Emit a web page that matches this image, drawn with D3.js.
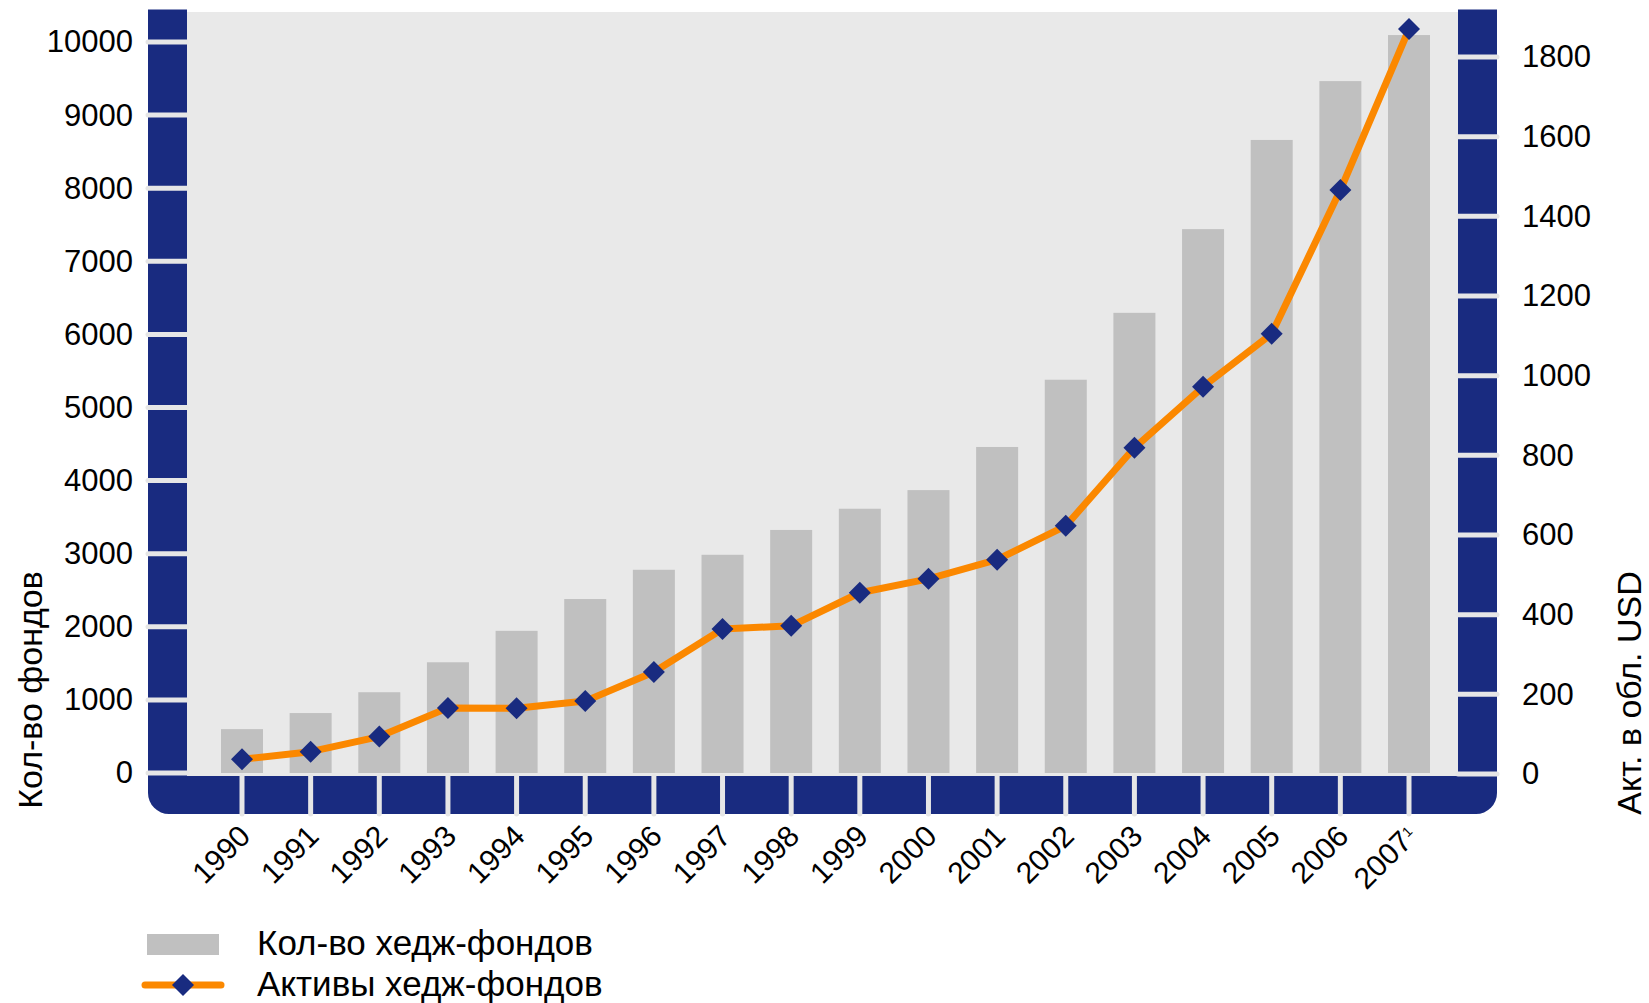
<!DOCTYPE html>
<html lang="ru">

<head>
    <meta charset="UTF-8">
    <title>Хедж-фонды</title>
    <script src="https://cdn.jsdelivr.net/npm/d3@7/dist/d3.min.js"></script>
    <style>
        body {
            margin: 0;
            background: #fff;
        }
        svg {
            font-family: "Liberation Sans", Arial, sans-serif;
        }
    </style>
</head>

<body>
    <script>
        // data
        var years = ["1990", "1991", "1992", "1993", "1994", "1995", "1996", "1997", "1998",
            "1999", "2000", "2001", "2002", "2003", "2004", "2005", "2006", "2007"];
        var fundCounts = [600, 820, 1105, 1515, 1945, 2380, 2780, 2985, 3325,
            3615, 3870, 4460, 5380, 6295, 7440, 8660, 9465, 10095];
        var assets = [37, 56, 94, 166, 165, 183, 256, 364, 372,
            455, 490, 538, 623, 819, 972, 1105, 1466, 1870];
        var leftTicks = [0, 1000, 2000, 3000, 4000, 5000, 6000, 7000, 8000, 9000, 10000];
        var rightTicks = [0, 200, 400, 600, 800, 1000, 1200, 1400, 1600, 1800];
        var leftTitle = "Кол-во фондов";
        var rightTitle = "Акт. в обл. USD";
        var legendNames = ["Кол-во хедж-фондов", "Активы хедж-фондов"];

        var blue = "#192b80",
            orange = "#fb8800",
            barGray = "#c0c0c0",
            bgGray = "#e9e9e9";

        var W = 1649, H = 1003;
        var plotLeft = 187, plotRight = 1458, plotTop = 12, plotBottom = 776;
        var barW = 39; // width of the blue axis bars

        var svg = d3.select("body").append("svg")
            .attr("width", W)
            .attr("height", H);

        var step = (1409 - 242) / (years.length - 1);
        var x = d3.scaleBand()
            .domain(years)
            .range([242 - step / 2, 1409 + step / 2])
            .paddingInner(0.388)
            .paddingOuter(0.194);
        var yLeft = d3.scaleLinear().domain([0, 10000]).range([773, 42]);
        var yRight = d3.scaleLinear().domain([0, 1800]).range([774, 57]);
        var cx = function (d) { return x(d) + x.bandwidth() / 2; };

        // plot background
        svg.append("rect")
            .attr("x", plotLeft)
            .attr("y", plotTop)
            .attr("width", plotRight - plotLeft)
            .attr("height", plotBottom - plotTop)
            .style("fill", bgGray);

        // blue axis bars
        svg.append("rect")
            .attr("x", plotLeft - barW).attr("y", 9.5)
            .attr("width", barW).attr("height", plotBottom - 9.5)
            .style("fill", blue);
        svg.append("rect")
            .attr("x", plotRight).attr("y", 9.5)
            .attr("width", barW).attr("height", plotBottom - 9.5)
            .style("fill", blue);
        var bx0 = plotLeft - barW, bx1 = plotRight + barW, by0 = plotBottom, by1 = 814, r = 21;
        svg.append("path")
            .attr("d", "M" + bx0 + "," + by0 + "H" + bx1 + "V" + (by1 - r) +
                "a" + r + "," + r + " 0 0 1 " + (-r) + "," + r +
                "H" + (bx0 + r) +
                "a" + r + "," + r + " 0 0 1 " + (-r) + "," + (-r) + "Z")
            .style("fill", blue);

        // light tick gaps cut into the bars
        var gaps = svg.append("g")
            .style("stroke", "#e6e6e6")
            .style("stroke-width", 5)
            .style("stroke-linecap", "round");
        gaps.selectAll("line.l").data(leftTicks).enter().append("line")
            .attr("x1", plotLeft - barW).attr("x2", plotLeft)
            .attr("y1", function (d) { return yLeft(d); })
            .attr("y2", function (d) { return yLeft(d); });
        gaps.selectAll("line.r").data(rightTicks).enter().append("line")
            .attr("x1", plotRight).attr("x2", plotRight + barW)
            .attr("y1", function (d) { return yRight(d); })
            .attr("y2", function (d) { return yRight(d); });
        gaps.selectAll("line.b").data(years).enter().append("line")
            .attr("x1", cx).attr("x2", cx)
            .attr("y1", plotBottom).attr("y2", by1);

        // bars
        svg.append("g").selectAll("rect")
            .data(years)
            .enter()
            .append("rect")
            .attr("x", function (d) { return x(d); })
            .attr("width", x.bandwidth())
            .attr("y", function (d, i) { return yLeft(fundCounts[i]); })
            .attr("height", function (d, i) { return yLeft(0) - yLeft(fundCounts[i]); })
            .style("fill", barGray);

        // line + diamonds
        var line = d3.line()
            .x(function (d, i) { return cx(years[i]); })
            .y(function (d) { return yRight(d); });
        svg.append("path")
            .datum(assets)
            .attr("d", line)
            .style("fill", "none")
            .style("stroke", orange)
            .style("stroke-width", 7)
            .style("stroke-linejoin", "round");
        var diamond = d3.symbol().type(d3.symbolSquare).size(242);
        svg.append("g").selectAll("path")
            .data(assets)
            .enter()
            .append("path")
            .attr("d", diamond)
            .attr("transform", function (d, i) {
                return "translate(" + cx(years[i]) + "," + yRight(d) + ") rotate(45)";
            })
            .style("fill", blue);

        // axes (labels only, the bars above act as axis lines)
        var axL = svg.append("g")
            .attr("transform", "translate(" + 133 + ",0)")
            .call(d3.axisLeft(yLeft).tickValues(leftTicks).tickFormat(d3.format("d"))
                .tickSize(0).tickPadding(0));
        var axR = svg.append("g")
            .attr("transform", "translate(" + 1522 + ",0)")
            .call(d3.axisRight(yRight).tickValues(rightTicks).tickFormat(d3.format("d"))
                .tickSize(0).tickPadding(0));
        [axL, axR].forEach(function (ax) {
            ax.select(".domain").remove();
            ax.selectAll("text")
                .style("font-size", "31px")
                .style("fill", "#000")
                .style("font-family", "'Liberation Sans', Arial, sans-serif");
        });

        var axB = svg.append("g")
            .attr("transform", "translate(0," + 838 + ")")
            .call(d3.axisBottom(x).tickSize(0).tickPadding(0));
        axB.select(".domain").remove();
        axB.selectAll(".tick text")
            .attr("y", 0)
            .attr("dy", 0)
            .attr("transform", "translate(10,0) rotate(-45)")
            .style("text-anchor", "end")
            .style("font-size", "30px")
            .style("fill", "#000")
            .style("font-family", "'Liberation Sans', Arial, sans-serif");
        // footnote mark on the last year
        axB.selectAll(".tick text")
            .filter(function (d) { return d === "2007"; })
            .append("tspan")
            .attr("baseline-shift", "super")
            .style("font-size", "14px")
            .text("1");

        // axis titles
        svg.append("text")
            .attr("transform", "translate(42,690) rotate(-90)")
            .style("text-anchor", "middle")
            .style("font-size", "34px")
            .text(leftTitle);
        svg.append("text")
            .attr("transform", "translate(1641,693) rotate(-90)")
            .style("text-anchor", "middle")
            .style("font-size", "34px")
            .text(rightTitle);

        // legend
        var legend = svg.append("g");
        legend.append("rect")
            .attr("x", 147).attr("y", 934)
            .attr("width", 72).attr("height", 21)
            .style("fill", barGray);
        legend.append("line")
            .attr("x1", 145).attr("x2", 221)
            .attr("y1", 985).attr("y2", 985)
            .style("stroke", orange)
            .style("stroke-width", 7)
            .style("stroke-linecap", "round");
        legend.append("path")
            .attr("d", diamond)
            .attr("transform", "translate(183,985) rotate(45)")
            .style("fill", blue);
        legend.selectAll("text")
            .data(legendNames)
            .enter()
            .append("text")
            .attr("x", 257)
            .attr("y", function (d, i) { return i === 0 ? 955 : 996; })
            .style("font-size", "35px")
            .text(function (d) { return d; });
    </script>
</body>

</html>
